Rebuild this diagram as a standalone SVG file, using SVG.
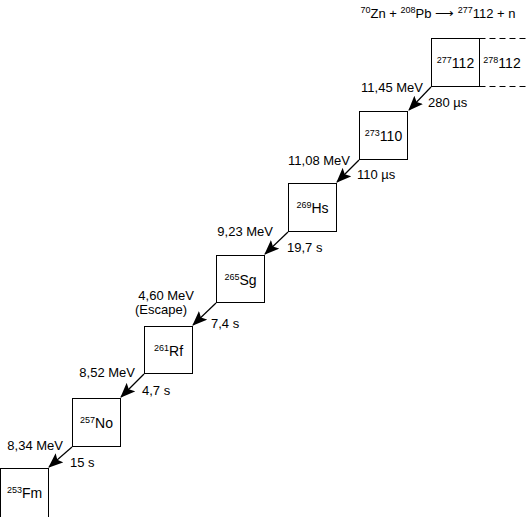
<svg xmlns="http://www.w3.org/2000/svg" width="526" height="517" viewBox="0 0 526 517">
<style>
text{font-family:"Liberation Sans",Arial,sans-serif;font-size:13px;fill:#000}
.sup{font-size:9px}
.nl{font-size:14px}
.box{fill:#fff;stroke:#000;stroke-width:1}
.dash{fill:none;stroke:#000;stroke-width:1;stroke-dasharray:6 4}
.arr{stroke:#000;stroke-width:1.2;fill:none;marker-end:url(#ah)}
.lbl{text-anchor:end}
</style>
<defs>
<marker id="ah" markerUnits="userSpaceOnUse" markerWidth="15" markerHeight="12" viewBox="0 0 15 12" refX="14" refY="6" orient="auto">
<path d="M0,0 L15,6 L0,12 L3,6 Z" fill="#000"/>
</marker>
</defs>
<g id="title">
<text x="438" y="18" text-anchor="middle"><tspan class="sup" dy="-5">70</tspan><tspan dy="5">Zn + </tspan><tspan class="sup" dy="-5">208</tspan><tspan dy="5">Pb ⟶ </tspan><tspan class="sup" dy="-5">277</tspan><tspan dy="5">112 + n</tspan></text>
</g>
<g id="n277">
<rect class="box" x="431.5" y="38.5" width="48" height="48"/>
<text class="nl" x="455.5" y="68" text-anchor="middle"><tspan class="sup" dy="-5">277</tspan><tspan dy="5">112</tspan></text>
</g>
<g id="n278">
<path class="dash" d="M479.5,38.5 H526 M479.5,86.5 H526"/>
<text class="nl" x="502" y="68" text-anchor="middle"><tspan class="sup" dy="-5">278</tspan><tspan dy="5">112</tspan></text>
</g>
<g id="n273">
<rect class="box" x="359.5" y="111.5" width="48" height="48"/>
<text class="nl" x="383.5" y="141" text-anchor="middle"><tspan class="sup" dy="-5">273</tspan><tspan dy="5">110</tspan></text>
</g>
<g id="n269">
<rect class="box" x="288.5" y="183.5" width="48" height="48"/>
<text class="nl" x="312.5" y="213" text-anchor="middle"><tspan class="sup" dy="-5">269</tspan><tspan dy="5">Hs</tspan></text>
</g>
<g id="n265">
<rect class="box" x="216.5" y="255.5" width="48" height="47"/>
<text class="nl" x="240.5" y="285" text-anchor="middle"><tspan class="sup" dy="-5">265</tspan><tspan dy="5">Sg</tspan></text>
</g>
<g id="n261">
<rect class="box" x="144.5" y="326.5" width="48" height="47"/>
<text class="nl" x="168.5" y="356" text-anchor="middle"><tspan class="sup" dy="-5">261</tspan><tspan dy="5">Rf</tspan></text>
</g>
<g id="n257">
<rect class="box" x="72.5" y="398.5" width="48" height="48"/>
<text class="nl" x="96.5" y="428" text-anchor="middle"><tspan class="sup" dy="-5">257</tspan><tspan dy="5">No</tspan></text>
</g>
<g id="n253">
<rect class="box" x="0.5" y="468.5" width="48" height="60"/>
<text class="nl" x="24.5" y="498" text-anchor="middle"><tspan class="sup" dy="-5">253</tspan><tspan dy="5">Fm</tspan></text>
</g>
<g id="connectors">
<line class="arr" x1="431" y1="87" x2="409" y2="110"/>
<line class="arr" x1="359" y1="160" x2="337" y2="182"/>
<line class="arr" x1="288" y1="232" x2="265" y2="254"/>
<line class="arr" x1="216" y1="303" x2="193" y2="325"/>
<line class="arr" x1="144" y1="374" x2="121" y2="397"/>
<line class="arr" x1="72" y1="447" x2="49" y2="467"/>
</g>
<g id="labels">
<text class="lbl" x="423" y="92">11,45 MeV</text>
<text x="428" y="107">280 µs</text>
<text class="lbl" x="350" y="165">11,08 MeV</text>
<text x="357" y="179">110 µs</text>
<text class="lbl" x="273" y="236">9,23 MeV</text>
<text x="287" y="252">19,7 s</text>
<text class="lbl" x="194" y="300">4,60 MeV</text>
<text x="135" y="314">(Escape)</text>
<text x="211" y="328">7,4 s</text>
<text class="lbl" x="135" y="377">8,52 MeV</text>
<text x="142" y="395">4,7 s</text>
<text class="lbl" x="63" y="450">8,34 MeV</text>
<text x="70" y="467">15 s</text>
</g>
</svg>
